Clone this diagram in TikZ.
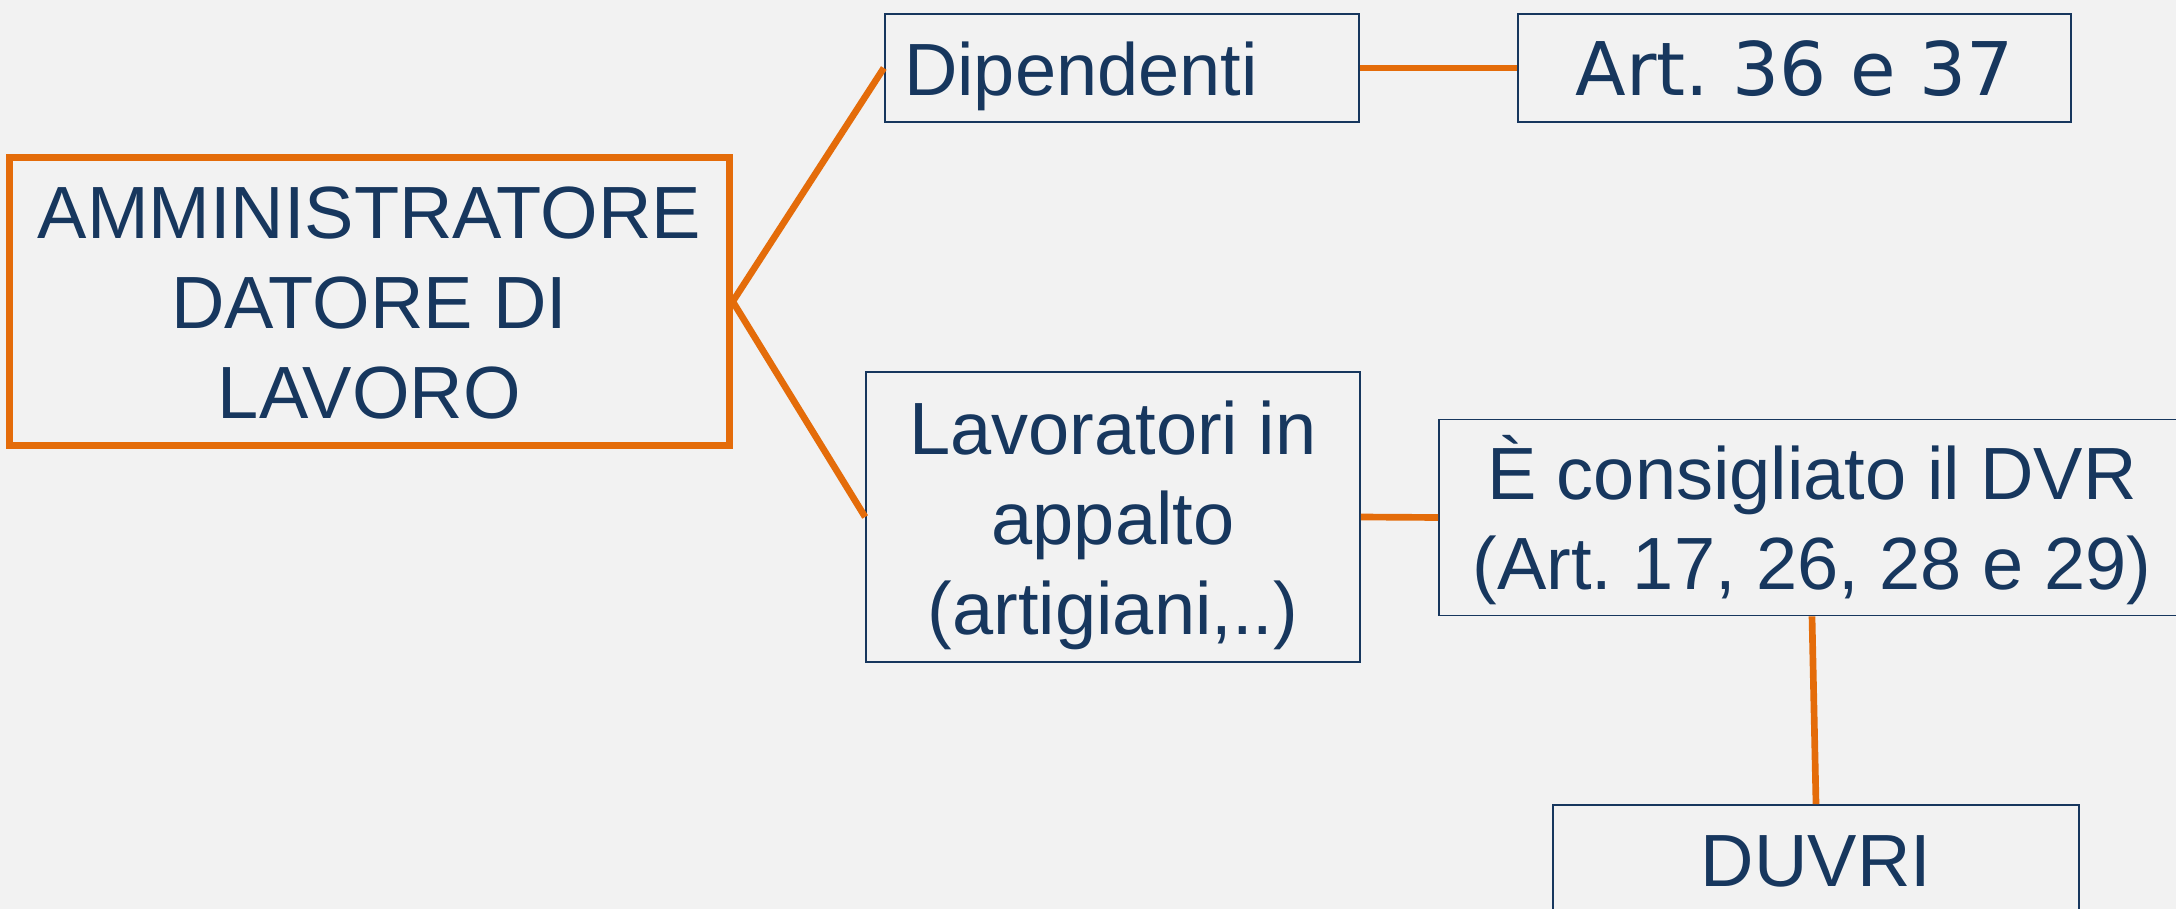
\documentclass[tikz,border=0pt]{standalone}
\usepackage{fontspec}
\setmainfont{Liberation Sans}
\newfontfamily\dejavu{DejaVu Sans}
\definecolor{bg}{HTML}{F2F2F2}
\definecolor{navy}{HTML}{17375E}
\definecolor{orng}{HTML}{E46C0A}
\newcommand{\lines}[1]{\begin{tabular}[t]{@{}c@{}}#1\end{tabular}}
\begin{document}
\frenchspacing
\begin{tikzpicture}[x=0.75pt,y=-0.75pt,
  every node/.style={font=\fontsize{55.5}{67.5}\selectfont\frenchspacing, text=navy, align=center, inner sep=0pt},
  thinbox/.style={draw=navy, line width=1.3pt, fill=bg},
  thickbox/.style={draw=orng, line width=5pt, fill=bg},
  single/.style={text height=41.5pt, text depth=0pt},
  multi/.style={text height=0pt, text depth=#1},
  link/.style={draw=orng, line width=5pt}]
\useasboundingbox (0,0) rectangle (2176,909);
\clip (0,0) rectangle (2176,909);
\fill[bg] (0,0) rectangle (2176,909);
\renewcommand{\arraystretch}{1}
\node[thickbox, minimum width=540pt, minimum height=216.4pt, multi=94.5pt] (admin) at (369.4,301.5) {\lines{AMMINISTRATORE\\DATORE DI\\LAVORO}};
\node[thinbox, single, minimum width=356pt, minimum height=81pt, text width=327pt, inner xsep=14.5pt, align=left] (dip) at (1122,68) {Dipendenti};
\node[thinbox, single, minimum width=415pt, minimum height=81pt] (art) at (1794.5,68) {\dejavu Art. 36 e 37};
\node[thinbox, multi=94.5pt, minimum width=370.5pt, minimum height=217.5pt] (lav) at (1113,517) {\lines{Lavoratori in\\appalto\\(artigiani,..)}};
\node[thinbox, multi=27.5pt, minimum width=559.5pt, minimum height=147pt] (dvr) at (1812,517.5) {\lines{È consigliato il DVR\\(Art. 17, 26, 28 e 29)}};
\node[thinbox, single, text height=40.5pt, minimum width=394.5pt, minimum height=81pt] (duvri) at (1816,859) {DUVRI};
\draw[link] (admin.east) -- (dip.west);
\draw[link] (admin.east) -- (lav.west);
\draw[link] (dip.east) -- (art.west);
\draw[link] (lav.east) -- (dvr.west);
\draw[link] (dvr.south) -- (duvri.north);
\end{tikzpicture}
\end{document}
